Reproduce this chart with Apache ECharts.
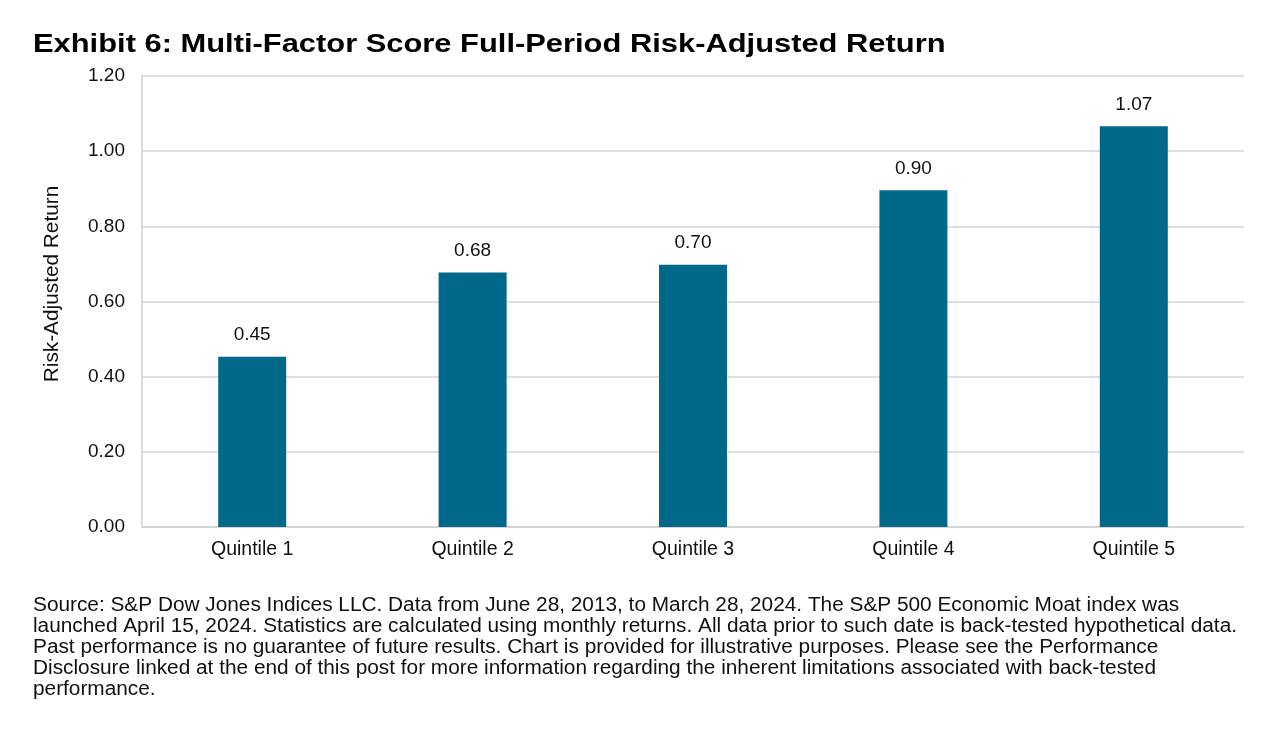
<!DOCTYPE html>
<html>
<head>
<meta charset="utf-8">
<script src="https://cdn.jsdelivr.net/npm/echarts@6/dist/echarts.min.js"></script>
<style>
html,body{margin:0;padding:0;background:#fff;}
#main{width:1280px;height:743px;}
</style>
</head>
<body>
<div id="main"></div>
<script>
const categories = ['Quintile 1', 'Quintile 2', 'Quintile 3', 'Quintile 4', 'Quintile 5'];
const values = [0.453, 0.677, 0.698, 0.896, 1.066];
const labels = ['0.45', '0.68', '0.70', '0.90', '1.07'];
const titleText = 'Exhibit 6: Multi-Factor Score Full-Period Risk-Adjusted Return';
const yAxisName = 'Risk-Adjusted Return';
const footnoteLines = [
  'Source: S&P Dow Jones Indices LLC. Data from June 28, 2013, to March 28, 2024. The S&P 500 Economic Moat index was',
  'launched April 15, 2024. Statistics are calculated using monthly returns. All data prior to such date is back-tested hypothetical data.',
  'Past performance is no guarantee of future results. Chart is provided for illustrative purposes. Please see the Performance',
  'Disclosure linked at the end of this post for more information regarding the inherent limitations associated with back-tested',
  'performance.'
];

const font = '"Liberation Sans", Arial, sans-serif';
const chart = echarts.init(document.getElementById('main'));
chart.setOption({
  backgroundColor: '#ffffff',
  animation: false,
  grid: { left: 142, right: 36, top: 76, bottom: 216, containLabel: false },
  xAxis: {
    type: 'category',
    data: categories,
    axisLine: { show: true, lineStyle: { color: '#d0d0d0', width: 1.5 } },
    axisTick: { show: false },
    axisLabel: { fontFamily: font, fontSize: 19.5, color: '#111', margin: 13 }
  },
  yAxis: {
    type: 'value',
    min: 0, max: 1.2, interval: 0.2,
    axisLine: { show: true, lineStyle: { color: '#d0d0d0', width: 1.5 } },
    axisTick: { show: false },
    splitLine: { show: true, lineStyle: { color: '#d6d6d6', width: 1.5 } },
    axisLabel: {
      fontFamily: font, fontSize: 19, color: '#111', margin: 17,
      formatter: v => v.toFixed(2)
    }
  },
  series: [{
    type: 'bar',
    data: values,
    barWidth: 68,
    itemStyle: { color: '#00698a' },
    label: {
      show: true, position: 'top', distance: 12,
      fontFamily: font, fontSize: 19, color: '#111',
      formatter: p => labels[p.dataIndex]
    }
  }],
  graphic: [{
    type: 'text',
    x: 33, y: 31,
    scaleX: 1.165,
    style: {
      text: titleText,
      font: 'bold 26.5px ' + font,
      fill: '#000'
    }
  }, {
    type: 'text',
    x: 52, y: 284,
    rotation: Math.PI / 2,
    style: {
      text: yAxisName,
      font: '20.8px ' + font,
      fill: '#111',
      align: 'center',
      verticalAlign: 'middle'
    }
  }, {
    type: 'text',
    x: 33, y: 595,
    scaleX: 1.067,
    style: {
      text: footnoteLines.join('\n'),
      font: '19.5px ' + font,
      lineHeight: 21,
      fill: '#111'
    }
  }]
});
</script>
</body>
</html>
